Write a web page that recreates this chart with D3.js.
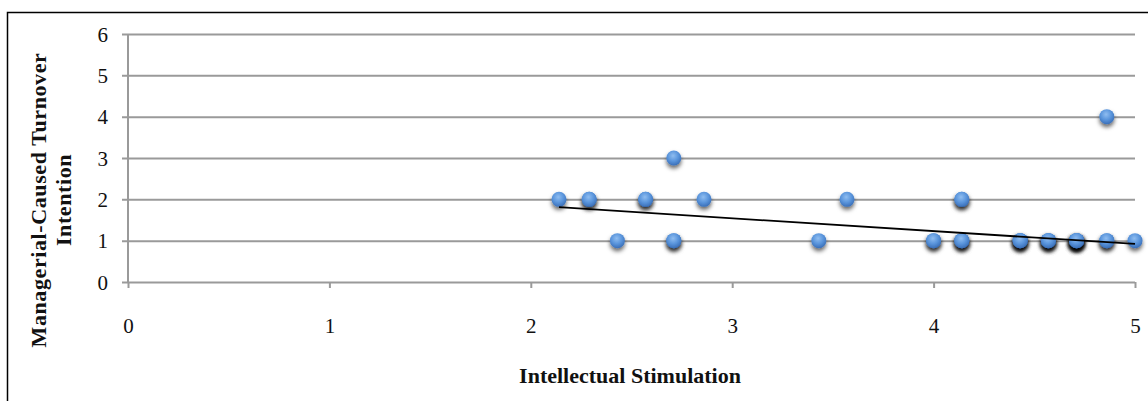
<!DOCTYPE html>
<html lang="en">
<head>
    <meta charset="UTF-8">
    <title>Managerial-Caused Turnover Intention</title>
    <style>
        body {
            margin: 0;
            background: #fff;
        }
        svg {
            display: block;
        }
        svg text {
            font-family: 'Liberation Serif', 'Times New Roman', serif;
        }
    </style>
</head>
<body>
    <script src="https://d3js.org/d3.v7.min.js"></script>
    <script>
        const W = 1148
        const H = 401

        // scatter points (repeated entries are overlapping respondents)
        const stimulation = [2.14, 2.29, 2.29, 2.43, 2.57, 2.57, 2.71, 2.71, 2.71, 2.86,
            3.43, 3.57, 4.0, 4.0, 4.14, 4.14, 4.14, 4.14, 4.14,
            4.43, 4.43, 4.43, 4.43, 4.57, 4.57, 4.57, 4.57,
            4.71, 4.71, 4.71, 4.71, 4.71, 4.71, 4.86, 4.86, 4.86, 5.0]
        const turnover = [2, 2, 2, 1, 2, 2, 3, 1, 1, 2,
            1, 2, 1, 1, 2, 2, 1, 1, 1,
            1, 1, 1, 1, 1, 1, 1, 1,
            1, 1, 1, 1, 1, 1, 4, 1, 1, 1]

        // linear trend line end points
        const trendX = [2.14, 5]
        const trendY = [1.81, 0.92]

        const xTicks = [0, 1, 2, 3, 4, 5]
        const yTicks = [0, 1, 2, 3, 4, 5, 6]

        const x = d3.scaleLinear().domain([0, 5]).range([128, 1135])
        const y = d3.scaleLinear().domain([0, 6]).range([282, 34])

        const svg = d3.select('body')
            .append('svg')
            .attr('width', W)
            .attr('height', H)

        // outer frame
        svg.append('rect')
            .attr('x', 7.5)
            .attr('y', 12.5)
            .attr('width', W)
            .attr('height', H)
            .attr('fill', 'none')
            .attr('stroke', '#000')
            .attr('stroke-width', 1.5)

        const defs = svg.append('defs')
        const grad = defs.append('radialGradient')
            .attr('id', 'dot')
            .attr('cx', '45%')
            .attr('cy', '35%')
            .attr('r', '65%')
        grad.append('stop').attr('offset', '0%').attr('stop-color', '#8fbdf0')
        grad.append('stop').attr('offset', '55%').attr('stop-color', '#5a95dc')
        grad.append('stop').attr('offset', '100%').attr('stop-color', '#3a6fb8')

        const shadow = defs.append('filter')
            .attr('id', 'shadow')
            .attr('x', '-60%').attr('y', '-60%')
            .attr('width', '220%').attr('height', '240%')
        shadow.append('feDropShadow')
            .attr('dx', 0)
            .attr('dy', 3)
            .attr('stdDeviation', 2)
            .attr('flood-color', '#000')
            .attr('flood-opacity', 0.6)

        const serif = "'Liberation Serif', 'Times New Roman', serif"

        // y axis with gridlines
        const yAxis = d3.axisLeft(y)
            .tickValues(yTicks)
            .tickSize(-(1135 - 122))
            .tickFormat(d3.format('d'))

        const gy = svg.append('g')
            .attr('transform', 'translate(122, 0)')
            .call(yAxis)
            .attr('font-family', serif)
        gy.select('.domain').remove()
        gy.selectAll('.tick line')
            .attr('stroke', '#9a9a9a')
            .attr('stroke-width', 2)
        gy.selectAll('.tick text')
            .style('font-family', serif)
            .attr('font-size', 21)
            .attr('fill', '#111')
            .attr('x', -14)
            .attr('dy', '0.34em')

        // vertical axis line
        svg.append('line')
            .attr('x1', x(0)).attr('x2', x(0))
            .attr('y1', y(6)).attr('y2', y(0))
            .attr('stroke', '#9a9a9a')
            .attr('stroke-width', 2)

        // x axis
        const xAxis = d3.axisBottom(x)
            .tickValues(xTicks)
            .tickSize(6)
            .tickPadding(30)
            .tickFormat(d3.format('d'))

        const gx = svg.append('g')
            .attr('transform', `translate(0, ${y(0)})`)
            .call(xAxis)
            .attr('font-family', serif)
        gx.select('.domain').remove()
        gx.selectAll('.tick line')
            .attr('stroke', '#9a9a9a')
            .attr('stroke-width', 2)
        gx.selectAll('.tick text')
            .style('font-family', serif)
            .attr('font-size', 21)
            .attr('fill', '#111')

        // points
        const pts = stimulation.map((v, i) => ({ x: v, y: turnover[i] }))
        svg.append('g')
            .selectAll('circle')
            .data(pts)
            .enter()
            .append('circle')
            .attr('cx', d => x(d.x))
            .attr('cy', d => y(d.y))
            .attr('r', 7.5)
            .attr('fill', 'url(#dot)')
            .attr('filter', 'url(#shadow)')

        // trend line
        svg.append('line')
            .attr('x1', x(trendX[0])).attr('y1', y(trendY[0]))
            .attr('x2', x(trendX[1])).attr('y2', y(trendY[1]))
            .attr('stroke', '#000')
            .attr('stroke-width', 1.8)

        // axis titles
        svg.append('text')
            .attr('x', 630)
            .attr('y', 383)
            .attr('text-anchor', 'middle')
            .attr('font-size', 22)
            .attr('font-weight', 'bold')
            .attr('fill', '#111')
            .text('Intellectual Stimulation')

        const yt = svg.append('text')
            .attr('transform', 'translate(0, 200) rotate(-90)')
            .attr('text-anchor', 'middle')
            .attr('font-size', 22)
            .attr('font-weight', 'bold')
            .attr('letter-spacing', 0.6)
            .attr('fill', '#111')
        yt.append('tspan').attr('x', 0).attr('y', 46).text('Managerial-Caused Turnover')
        yt.append('tspan').attr('x', 0).attr('y', 71).text('Intention')
    </script>
</body>
</html>
